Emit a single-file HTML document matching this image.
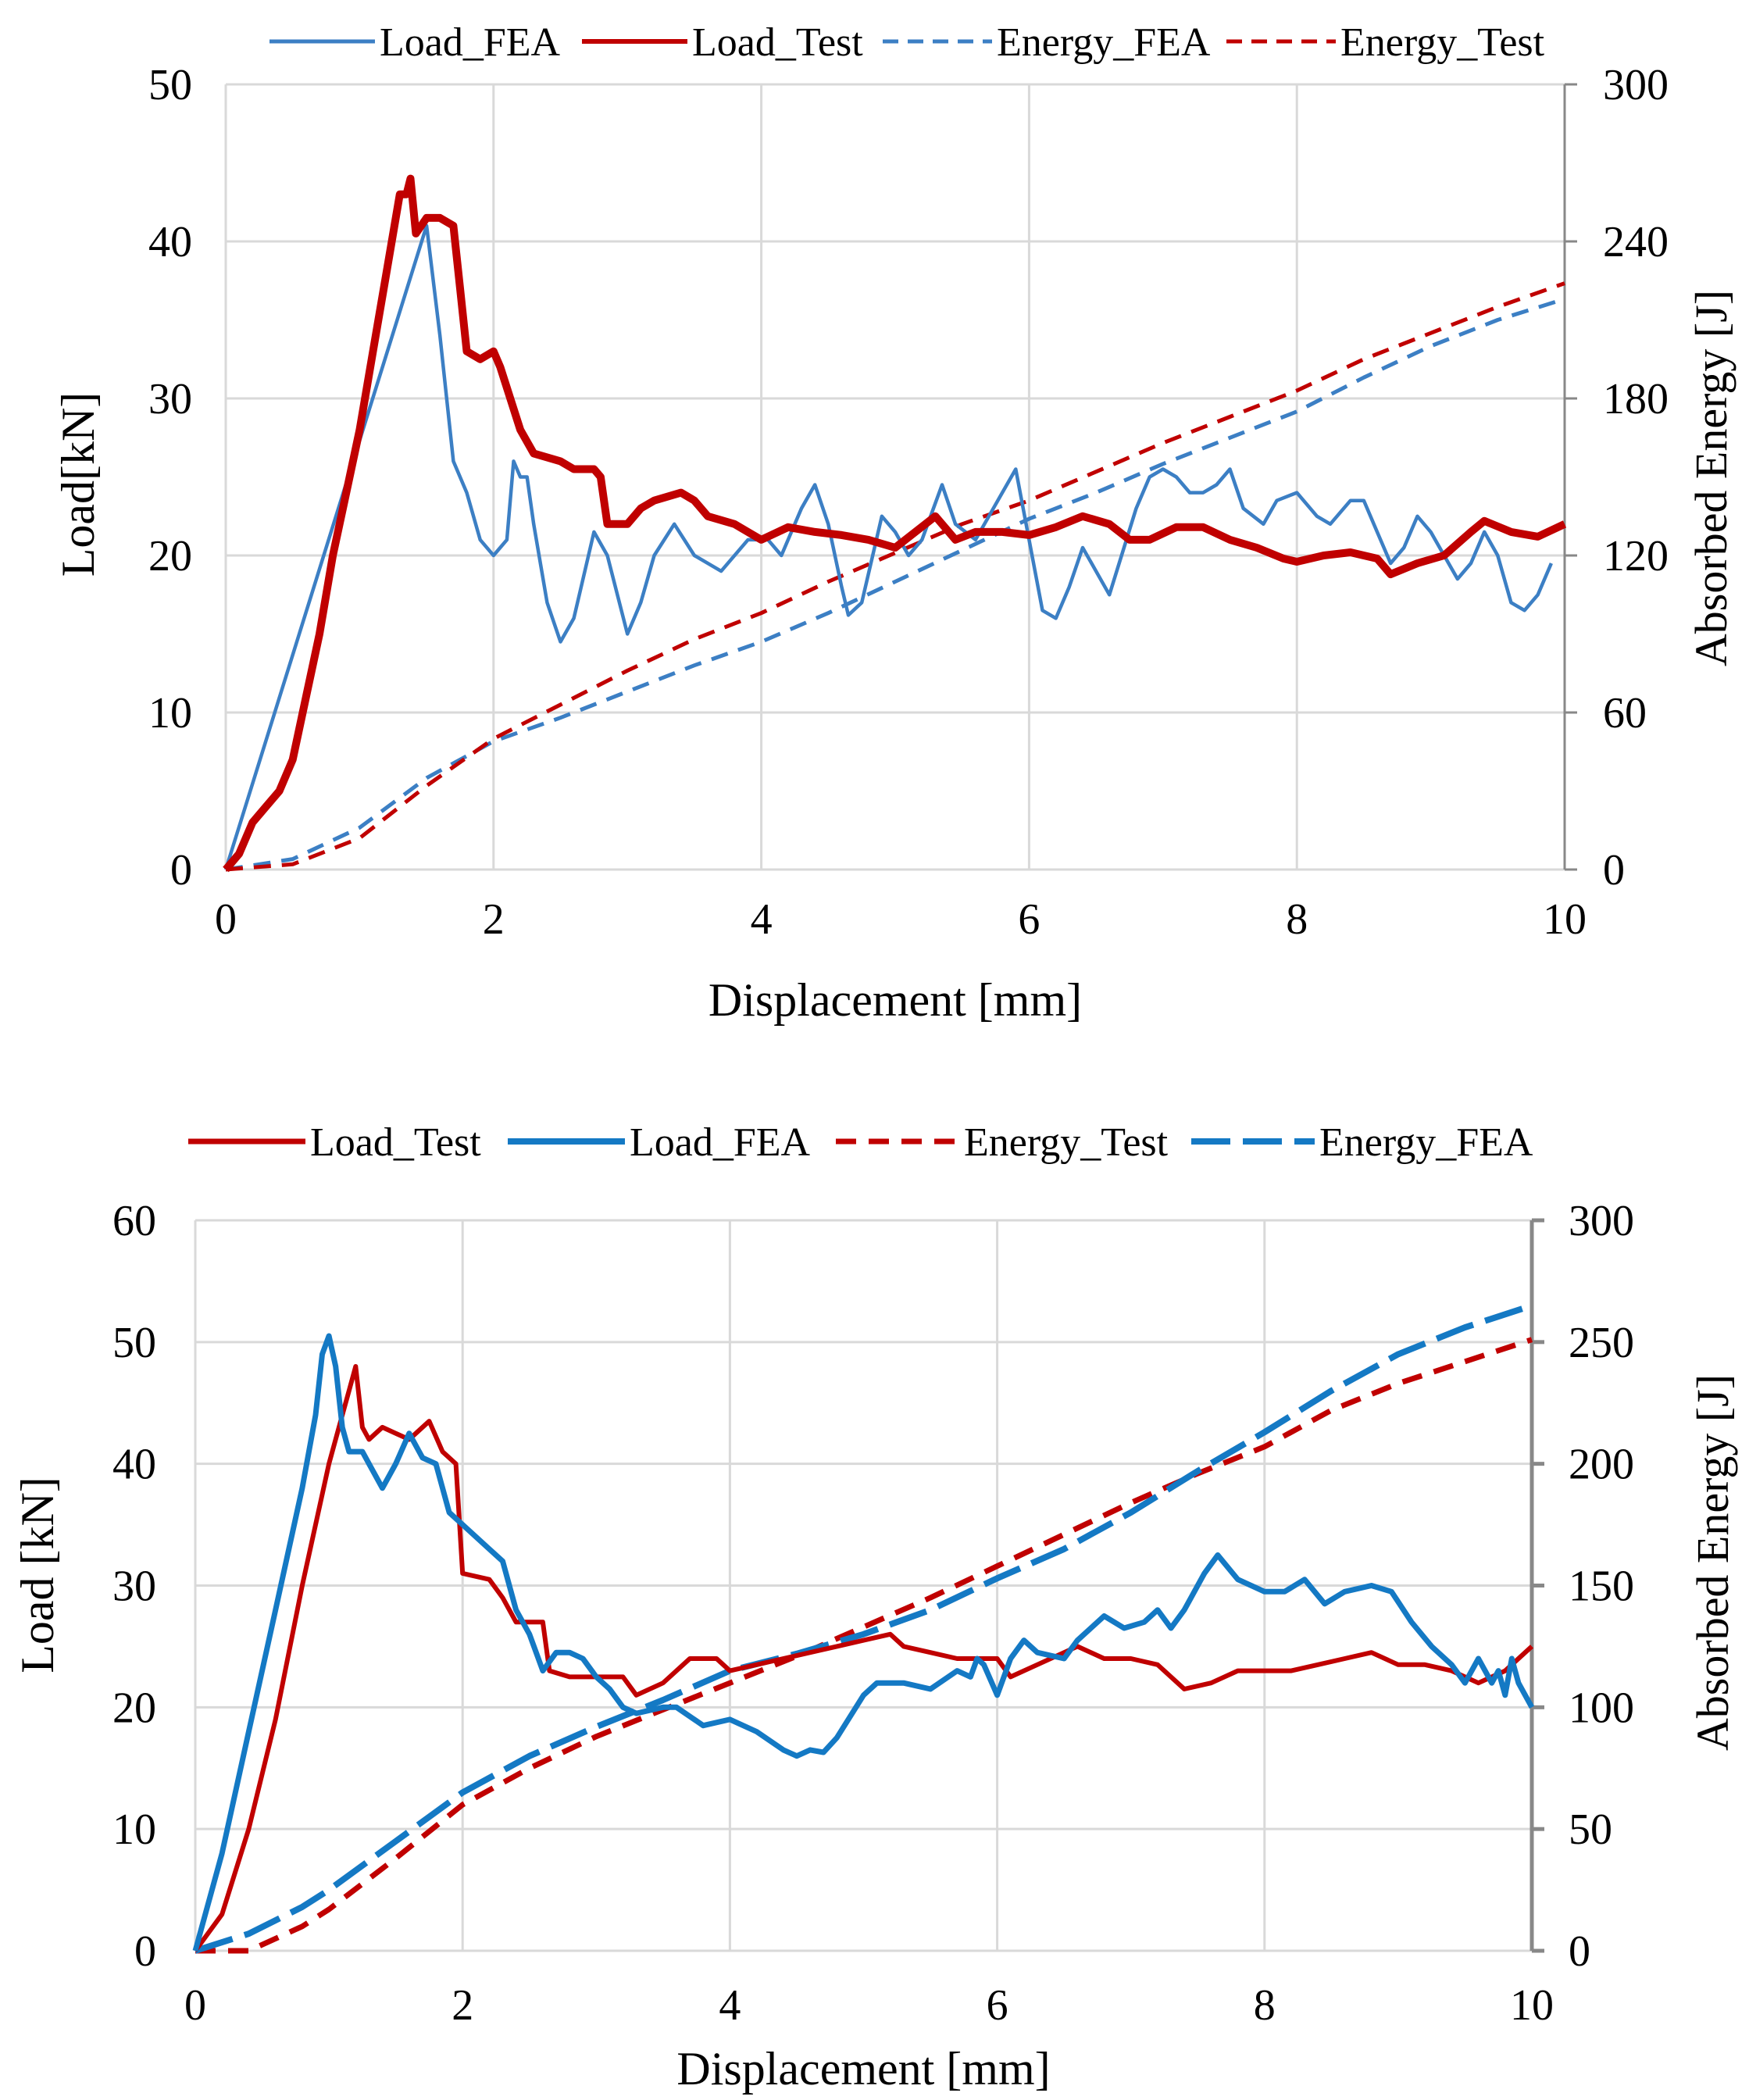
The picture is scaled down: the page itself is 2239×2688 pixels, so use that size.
<!DOCTYPE html>
<html><head><meta charset="utf-8"><style>
html,body{margin:0;padding:0;background:#fff}
svg{display:block}
text{font-family:"Liberation Serif","DejaVu Serif",serif;fill:#000}
</style></head><body>
<svg id="svg" width="2239" height="2688" viewBox="0 0 2239 2688" xmlns="http://www.w3.org/2000/svg"></svg>
<script>
// ---------- Chart 1 data ----------
const c1FeaX = [0,1.5,1.6,1.7,1.8,1.9,2.0,2.1,2.15,2.2,2.25,2.3,2.4,2.5,2.6,2.75,2.85,3.0,3.1,3.2,3.35,3.5,3.7,3.9,4.05,4.15,4.3,4.4,4.5,4.6,4.65,4.75,4.9,5.0,5.1,5.2,5.35,5.45,5.6,5.8,5.9,6.0,6.1,6.2,6.3,6.4,6.5,6.6,6.8,6.9,7.0,7.1,7.2,7.3,7.4,7.5,7.6,7.75,7.85,8.0,8.15,8.25,8.4,8.5,8.6,8.7,8.8,8.9,9.0,9.1,9.2,9.3,9.4,9.5,9.6,9.7,9.8,9.9];
const c1FeaY = [0,41,34,26,24,21,20,21,26,25,25,22,17,14.5,16,21.5,20,15,17,20,22,20,19,21,21,20,23,24.5,22,18,16.2,17,22.5,21.5,20,21,24.5,22,21,24,25.5,21,16.5,16,18,20.5,19,17.5,23,25,25.5,25,24,24,24.5,25.5,23,22,23.5,24,22.5,22,23.5,23.5,21.5,19.5,20.5,22.5,21.5,20,18.5,19.5,21.5,20,17,16.5,17.5,19.5];
const c1TestX = [0,0.1,0.2,0.3,0.4,0.5,0.6,0.7,0.8,0.9,1.0,1.1,1.2,1.3,1.35,1.38,1.42,1.5,1.6,1.7,1.75,1.8,1.9,2.0,2.05,2.2,2.3,2.5,2.6,2.75,2.8,2.85,3.0,3.1,3.2,3.4,3.5,3.6,3.8,3.9,4.0,4.2,4.4,4.6,4.8,5.0,5.15,5.3,5.45,5.6,5.8,6.0,6.2,6.4,6.6,6.75,6.9,7.1,7.3,7.5,7.7,7.9,8.0,8.2,8.4,8.6,8.7,8.9,9.1,9.3,9.4,9.6,9.8,10];
const c1TestY = [0,1,3,4,5,7,11,15,20,24,28,33,38,43,43,44,40.5,41.5,41.5,41,37,33,32.5,33,32,28,26.5,26,25.5,25.5,25,22,22,23,23.5,24,23.5,22.5,22,21.5,21,21.8,21.5,21.3,21,20.5,21.5,22.5,21,21.5,21.5,21.3,21.8,22.5,22,21,21,21.8,21.8,21,20.5,19.8,19.6,20,20.2,19.8,18.8,19.5,20,21.5,22.2,21.5,21.2,22];
const c1EX = [0,0.5,1,1.5,2,2.5,3,3.5,4,4.5,5,5.5,6,6.5,7,7.5,8,8.5,9,9.5,10];
const c1EFea = [0,4,16,35,49,58,68,78,87,98,110,122,134,144,155,165,175,188,200,210,218];
const c1ETest = [0,2,12,32,50,63,76,88,98,110,121,132,141,152,163,173,183,195,205,215,224];
const c1XTicks = [0,2,4,6,8,10];
const c1YTicks = [0,10,20,30,40,50];
const c1Y2Ticks = [0,60,120,180,240,300];

// ---------- Chart 2 data ----------
const c2FeaX = [0,0.2,0.4,0.6,0.8,0.9,0.95,1.0,1.05,1.1,1.15,1.25,1.3,1.4,1.5,1.6,1.7,1.8,1.9,2.0,2.2,2.3,2.4,2.5,2.6,2.7,2.8,2.9,3.0,3.1,3.2,3.3,3.5,3.6,3.8,4.0,4.2,4.4,4.5,4.6,4.7,4.8,5.0,5.1,5.3,5.5,5.7,5.8,5.85,5.9,6.0,6.1,6.2,6.3,6.5,6.6,6.8,6.95,7.1,7.2,7.3,7.4,7.55,7.65,7.8,8.0,8.15,8.3,8.45,8.6,8.8,8.95,9.1,9.25,9.4,9.5,9.6,9.7,9.75,9.8,9.85,9.9,10];
const c2FeaY = [0,8,18,28,38,44,49,50.5,48,43,41,41,40,38,40,42.5,40.5,40,36,35,33,32,28,26,23,24.5,24.5,24,22.5,21.5,20,19.5,20,20,18.5,19,18,16.5,16,16.5,16.3,17.5,21,22,22,21.5,23,22.5,24,23.5,21,24,25.5,24.5,24,25.5,27.5,26.5,27,28,26.5,28,31,32.5,30.5,29.5,29.5,30.5,28.5,29.5,30,29.5,27,25,23.5,22,24,22,23,21,24,22,20];
const c2TestX = [0,0.2,0.4,0.6,0.8,1.0,1.1,1.15,1.2,1.25,1.3,1.4,1.6,1.75,1.85,1.95,2.0,2.2,2.3,2.4,2.6,2.65,2.8,3.0,3.2,3.3,3.5,3.7,3.9,4.0,4.2,4.4,4.6,4.8,5.0,5.2,5.3,5.5,5.7,6.0,6.1,6.3,6.5,6.6,6.8,7.0,7.2,7.4,7.6,7.8,8.0,8.2,8.4,8.6,8.8,9.0,9.2,9.4,9.6,9.8,10];
const c2TestY = [0,3,10,19,30,40,44,46,48,43,42,43,42,43.5,41,40,31,30.5,29,27,27,23,22.5,22.5,22.5,21,22,24,24,23,23.5,24,24.5,25,25.5,26,25,24.5,24,24,22.5,23.5,24.5,25,24,24,23.5,21.5,22,23,23,23,23.5,24,24.5,23.5,23.5,23,22,23,25];
const c2EX = [0,0.4,0.8,1,1.5,2,2.5,3,3.5,4,4.5,5,5.5,6,6.5,7,7.5,8,8.5,9,9.5,10];
const c2EFea = [0,7,18,25,45,65,80,92,103,115,122,130,140,153,165,180,197,213,230,245,256,265];
const c2ETest = [0,0,10,17,38,60,75,88,99,110,121,133,145,158,171,184,196,207,222,233,242,251];
const c2XTicks = [0,2,4,6,8,10];
const c2YTicks = [0,10,20,30,40,50,60];
const c2Y2Ticks = [0,50,100,150,200,250,300];

const NS = "http://www.w3.org/2000/svg";
const svg = document.getElementById('svg');
function mk(tag, attrs, parent, txt){
  const e = document.createElementNS(NS, tag);
  for (const k in attrs) e.setAttribute(k, attrs[k]);
  if (txt !== undefined) e.textContent = txt;
  (parent||svg).appendChild(e);
  return e;
}

function chart(cfg){
  const g = mk('g', {});
  
  
  const sx = v => cfg.L + (v - 0) / 10 * (cfg.R - cfg.L);
  const sy = v => cfg.B - v / cfg.yMax * (cfg.B - cfg.T);
  const sy2 = v => cfg.B - v / 300 * (cfg.B - cfg.T);
  cfg.yTicks.forEach(t => {
    const l = mk('line', {x1:cfg.L, x2:cfg.R, y1:sy(t), y2:sy(t), stroke:'#d9d9d9', 'stroke-width':3}, g);
    
    
    const tx = mk('text', {x:cfg.ylx, y:sy(t)+19, 'font-size':56, 'text-anchor':'end'}, g, t);
    
    
  });
  cfg.xTicks.forEach(t => {
    const l = mk('line', {x1:sx(t), x2:sx(t), y1:cfg.T, y2:cfg.B, stroke:'#d9d9d9', 'stroke-width':3}, g);
    
    
    const tx = mk('text', {x:sx(t), y:cfg.xly, 'font-size':56, 'text-anchor':'middle'}, g, t);
    
    
  });
  cfg.y2Ticks.forEach(t => {
    const tx = mk('text', {x:cfg.y2lx, y:sy2(t)+19, 'font-size':56, 'text-anchor':'start'}, g, t);
    
    
    const tk = mk('line', {x1:cfg.R, x2:cfg.R+16, y1:sy2(t), y2:sy2(t), stroke:'#888', 'stroke-width':cfg.r2w}, g);
    
    
  });
  const ax = mk('line', {x1:cfg.R, x2:cfg.R, y1:cfg.T, y2:cfg.B, stroke:'#888', 'stroke-width':cfg.r2w}, g);
  
  
  const path = (xs, ys, f) => xs.map((x,i)=> (i?'L':'M') + sx(x).toFixed(1) + ' ' + f(ys[i]).toFixed(1)).join(' ');
  cfg.series.forEach(s => {
    const p = mk('path', {d:path(s.x, s.y, s.axis2?sy2:sy), fill:'none', stroke:s.color, 'stroke-width':s.w, 'stroke-dasharray':s.dash||'none', 'stroke-linejoin':'round'}, g);
    
    
  });
  const xt = mk('text', {x:(cfg.L+cfg.R)/2, y:cfg.xty, 'font-size':60, 'text-anchor':'middle'}, g, 'Displacement [mm]');
  
  
  const yt = mk('text', {x:0, y:0, 'font-size':60, 'text-anchor':'middle', transform:`translate(${cfg.ytx},${cfg.yty}) rotate(-90)`}, g, cfg.yTitle);
  
  
  const y2t = mk('text', {x:0, y:0, 'font-size':58, 'text-anchor':'middle', transform:`translate(${cfg.y2tx},${cfg.y2ty}) rotate(-90)`}, g, 'Absorbed Energy [J]');
  
  
  cfg.legend.forEach(e => {
    const lg = mk('g', {}, g);
    
    
    mk('line', {x1:e.x1, x2:e.x2, y1:cfg.legY, y2:cfg.legY, stroke:e.color, 'stroke-width':e.w, 'stroke-dasharray':e.dash||'none'}, lg);
    mk('text', {x:e.x2+6, y:cfg.legY+18, 'font-size':52}, lg, e.label);
  });
}

chart({name:'chart-top', L:289, R:2003, T:108, B:1113, yMax:50,
  xTicks:c1XTicks, yTicks:c1YTicks, y2Ticks:c1Y2Ticks, ylx:246, y2lx:2052, xly:1195, r2w:3,
  xty:1300, yTitle:'Load[kN]', ytx:120, yty:620, y2tx:2210, y2ty:612,
  series:[
    {id:'energy-fea-line', x:c1EX, y:c1EFea, axis2:true, color:'#3c7fc4', w:5, dash:'22 14'},
    {id:'energy-test-line', x:c1EX, y:c1ETest, axis2:true, color:'#c00000', w:5, dash:'22 14'},
    {id:'load-fea-line', x:c1FeaX, y:c1FeaY, color:'#3c7fc4', w:4.5},
    {id:'load-test-line', x:c1TestX, y:c1TestY, color:'#c00000', w:10}
  ],
  legY:53,
  legend:[
    {x1:345, x2:480, color:'#3c7fc4', w:5, label:'Load_FEA'},
    {x1:745, x2:880, color:'#c00000', w:6, label:'Load_Test'},
    {x1:1130, x2:1270, color:'#3c7fc4', w:5, dash:'20 12', label:'Energy_FEA'},
    {x1:1570, x2:1710, color:'#c00000', w:5, dash:'20 12', label:'Energy_Test'}
  ]});

chart({name:'chart-bottom', L:250, R:1961, T:1562, B:2497, yMax:60,
  xTicks:c2XTicks, yTicks:c2YTicks, y2Ticks:c2Y2Ticks, ylx:200, y2lx:2008, xly:2585, r2w:5,
  xty:2668, yTitle:'Load [kN]', ytx:68, yty:2016, y2tx:2212, y2ty:2000,
  series:[
    {id:'energy-test-line', x:c2EX, y:c2ETest, axis2:true, color:'#c00000', w:7, dash:'26 16'},
    {id:'energy-fea-line', x:c2EX, y:c2EFea, axis2:true, color:'#1479c4', w:8, dash:'50 16'},
    {id:'load-test-line', x:c2TestX, y:c2TestY, color:'#c00000', w:6},
    {id:'load-fea-line', x:c2FeaX, y:c2FeaY, color:'#1479c4', w:7}
  ],
  legY:1461,
  legend:[
    {x1:241, x2:391, color:'#c00000', w:7, label:'Load_Test'},
    {x1:650, x2:800, color:'#1479c4', w:8, label:'Load_FEA'},
    {x1:1070, x2:1228, color:'#c00000', w:7, dash:'26 16', label:'Energy_Test'},
    {x1:1525, x2:1683, color:'#1479c4', w:8, dash:'50 16', label:'Energy_FEA'}
  ]});
</script>
</body></html>
